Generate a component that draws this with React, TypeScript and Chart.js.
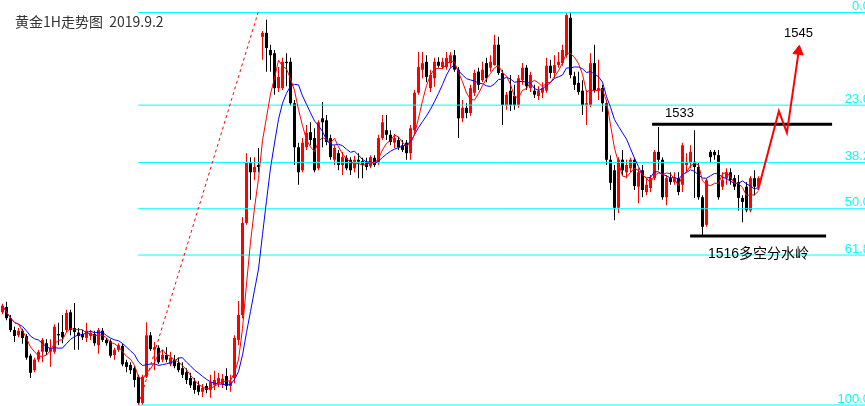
import React, { useEffect, useRef } from "react";
import { Chart, registerables } from "chart.js";

Chart.register(...registerables);

// ---- Gold 1H candles (price, USD/oz) ----
const opens = [
  1504.4, 1505.2, 1503.5, 1501.7, 1500.9, 1501.6, 1500.8, 1497.8, 1495.6, 1497.2,
  1498.4, 1499.7, 1498.4, 1498.4, 1501.1, 1501.4, 1501.7, 1504.4, 1502.0, 1501.3,
  1501.1, 1500.5, 1500.8, 1501.1, 1499.4, 1501.6, 1500.2, 1500.0, 1497.9, 1498.7,
  1499.3, 1496.8, 1496.4, 1495.9, 1494.6, 1490.6, 1494.6, 1500.9, 1498.7, 1499.0,
  1497.2, 1497.9, 1496.5, 1497.2, 1496.7, 1495.9, 1495.3, 1494.4, 1493.9, 1493.3,
  1492.3, 1493.2, 1492.6, 1493.3, 1493.6, 1493.5, 1494.7, 1493.2, 1494.4, 1500.2,
  1504.0, 1518.0, 1527.1, 1525.7, 1526.8, 1546.3, 1546.9, 1544.3, 1543.8, 1538.5,
  1538.5, 1542.5, 1542.5, 1536.2, 1529.5, 1526.0, 1529.5, 1531.8, 1530.9, 1526.3,
  1533.9, 1533.6, 1530.9, 1527.6, 1528.6, 1526.8, 1527.9, 1527.6, 1526.3, 1527.6,
  1527.4, 1527.3, 1526.6, 1527.9, 1527.1, 1530.9, 1532.1, 1531.4, 1530.2, 1530.6,
  1529.8, 1530.2, 1528.6, 1532.1, 1537.8, 1541.3, 1542.5, 1538.5, 1540.0, 1542.5,
  1541.7, 1541.7, 1542.3, 1543.5, 1541.3, 1533.9, 1535.5, 1534.7, 1537.8, 1541.0,
  1539.7, 1542.3, 1541.6, 1542.0, 1545.1, 1540.8, 1535.9, 1538.1, 1537.3, 1535.9,
  1539.7, 1541.6, 1538.5, 1538.1, 1537.3, 1537.8, 1538.1, 1541.9, 1540.8, 1542.0,
  1542.3, 1543.5, 1549.2, 1540.3, 1539.3, 1538.1, 1535.9, 1535.9, 1542.3, 1538.1,
  1538.5, 1536.2, 1527.6, 1526.0, 1520.3, 1527.6, 1525.7, 1526.3, 1527.6, 1523.5,
  1526.0, 1522.7, 1523.3, 1524.8, 1528.8, 1527.6, 1521.9, 1524.8, 1524.2, 1524.8,
  1523.8, 1526.8, 1527.1, 1527.3, 1526.5, 1521.9, 1517.7, 1528.8, 1528.8, 1528.3,
  1523.5, 1524.8, 1525.7, 1524.8, 1524.2, 1521.8, 1523.5, 1519.9, 1524.8, 1523.5,
];
const highs = [
  1505.7, 1506.0, 1504.0, 1502.2, 1502.0, 1501.9, 1501.1, 1498.1, 1497.5, 1498.7,
  1500.5, 1500.3, 1500.3, 1502.6, 1502.8, 1504.0, 1504.8, 1504.8, 1505.8, 1502.0,
  1501.7, 1502.8, 1501.7, 1501.6, 1502.0, 1502.0, 1500.5, 1500.3, 1499.0, 1499.7,
  1499.6, 1497.2, 1496.8, 1496.2, 1494.9, 1494.9, 1502.9, 1501.4, 1499.9, 1499.4,
  1498.7, 1499.1, 1498.4, 1497.9, 1497.5, 1496.8, 1495.9, 1495.2, 1494.4, 1493.9,
  1493.5, 1493.6, 1494.9, 1495.5, 1495.2, 1495.0, 1495.9, 1494.9, 1500.9, 1506.1,
  1518.9, 1528.6, 1528.0, 1528.0, 1529.4, 1547.2, 1548.9, 1545.1, 1544.3, 1541.7,
  1543.1, 1543.8, 1543.1, 1536.7, 1530.2, 1530.9, 1532.9, 1533.3, 1532.4, 1533.6,
  1536.4, 1534.4, 1531.4, 1529.8, 1529.1, 1528.8, 1528.3, 1528.0, 1528.2, 1528.6,
  1527.9, 1527.9, 1528.3, 1528.3, 1531.4, 1534.4, 1534.4, 1532.1, 1531.5, 1531.1,
  1530.6, 1530.6, 1532.9, 1538.2, 1544.0, 1544.0, 1543.5, 1541.3, 1543.1, 1543.2,
  1543.1, 1544.0, 1544.0, 1544.3, 1541.7, 1536.7, 1536.2, 1539.0, 1541.3, 1541.6,
  1542.5, 1543.1, 1543.5, 1546.6, 1546.3, 1541.3, 1537.9, 1540.5, 1539.0, 1540.5,
  1542.3, 1542.0, 1541.0, 1539.0, 1538.8, 1539.4, 1543.1, 1542.8, 1543.5, 1544.0,
  1545.1, 1549.9, 1549.9, 1541.0, 1541.0, 1539.7, 1538.2, 1543.8, 1545.1, 1542.8,
  1539.0, 1536.7, 1528.3, 1526.8, 1528.0, 1529.1, 1527.6, 1527.9, 1527.9, 1526.3,
  1526.8, 1524.8, 1525.3, 1529.1, 1532.6, 1528.0, 1525.3, 1525.7, 1525.7, 1525.7,
  1530.2, 1528.6, 1529.8, 1532.1, 1527.1, 1522.2, 1524.8, 1529.1, 1529.1, 1529.1,
  1525.7, 1526.3, 1526.3, 1525.3, 1525.3, 1522.2, 1524.2, 1525.1, 1526.0, 1525.1,
];
const lows = [
  1504.1, 1503.2, 1501.4, 1499.9, 1500.6, 1499.6, 1497.2, 1494.4, 1495.3, 1496.8,
  1496.8, 1497.9, 1496.1, 1498.1, 1499.4, 1499.7, 1501.4, 1500.9, 1498.7, 1498.7,
  1500.2, 1499.9, 1500.2, 1499.3, 1498.1, 1499.9, 1499.3, 1497.5, 1497.2, 1498.4,
  1496.2, 1495.3, 1495.0, 1493.0, 1490.3, 1490.3, 1494.4, 1498.5, 1495.6, 1496.5,
  1496.8, 1496.8, 1496.2, 1495.9, 1495.3, 1494.4, 1493.5, 1492.9, 1492.0, 1491.8,
  1491.5, 1492.1, 1491.4, 1492.6, 1493.0, 1492.9, 1492.6, 1492.3, 1493.6, 1499.4,
  1503.5, 1517.7, 1521.5, 1524.5, 1525.7, 1542.8, 1541.0, 1541.0, 1537.5, 1537.9,
  1538.2, 1538.8, 1535.8, 1526.8, 1523.8, 1525.7, 1529.1, 1529.8, 1525.7, 1526.0,
  1529.5, 1529.8, 1527.6, 1526.8, 1526.0, 1525.3, 1526.0, 1525.3, 1525.7, 1524.8,
  1524.8, 1526.0, 1526.3, 1526.5, 1526.8, 1530.6, 1530.6, 1529.8, 1529.4, 1529.1,
  1528.8, 1527.6, 1527.6, 1531.4, 1537.5, 1540.0, 1539.4, 1537.9, 1538.7, 1541.6,
  1541.4, 1541.3, 1541.6, 1541.0, 1530.9, 1533.3, 1533.9, 1534.3, 1537.3, 1538.2,
  1539.4, 1539.4, 1541.0, 1541.9, 1540.5, 1532.9, 1535.2, 1535.0, 1535.2, 1535.5,
  1539.0, 1538.2, 1537.9, 1537.0, 1536.7, 1537.0, 1537.8, 1540.0, 1540.0, 1541.6,
  1541.9, 1543.1, 1540.0, 1538.2, 1537.5, 1534.4, 1532.9, 1535.6, 1537.8, 1536.7,
  1534.9, 1526.8, 1523.0, 1518.4, 1519.5, 1525.3, 1524.8, 1525.7, 1523.0, 1521.0,
  1521.9, 1522.2, 1522.7, 1524.5, 1526.0, 1521.5, 1520.7, 1523.8, 1523.8, 1522.2,
  1522.7, 1525.7, 1526.3, 1521.8, 1521.5, 1515.9, 1517.4, 1527.1, 1527.6, 1521.5,
  1523.0, 1523.8, 1523.8, 1523.0, 1519.9, 1518.1, 1519.6, 1519.6, 1522.2, 1523.0,
];
const closes = [
  1505.4, 1503.5, 1501.7, 1500.8, 1501.6, 1500.5, 1497.5, 1495.2, 1497.2, 1498.4,
  1500.2, 1498.4, 1499.0, 1502.2, 1500.9, 1500.6, 1504.3, 1501.7, 1501.4, 1500.8,
  1500.6, 1501.6, 1501.3, 1499.7, 1501.7, 1500.2, 1499.7, 1497.8, 1498.7, 1499.4,
  1496.5, 1496.1, 1495.6, 1494.1, 1490.6, 1494.6, 1500.9, 1498.8, 1499.1, 1496.8,
  1497.9, 1497.2, 1497.5, 1496.2, 1495.6, 1494.9, 1494.1, 1493.3, 1492.6, 1492.3,
  1492.9, 1492.6, 1493.8, 1494.1, 1494.4, 1494.3, 1493.2, 1493.9, 1500.5, 1504.0,
  1518.0, 1527.1, 1525.7, 1526.5, 1526.5, 1546.9, 1544.6, 1543.5, 1538.5, 1540.2,
  1542.5, 1542.3, 1536.2, 1529.5, 1525.7, 1530.2, 1531.7, 1530.6, 1526.0, 1533.3,
  1533.3, 1530.3, 1528.0, 1529.4, 1526.8, 1528.0, 1526.3, 1526.0, 1527.6, 1527.3,
  1526.8, 1526.5, 1528.0, 1526.8, 1530.9, 1533.3, 1531.4, 1530.3, 1530.9, 1529.5,
  1529.1, 1528.6, 1532.4, 1537.8, 1541.7, 1542.3, 1540.2, 1540.5, 1542.5, 1541.9,
  1542.5, 1543.1, 1543.5, 1541.3, 1533.9, 1535.5, 1534.7, 1538.5, 1540.8, 1539.0,
  1541.3, 1540.0, 1542.5, 1545.1, 1540.8, 1535.9, 1537.5, 1535.9, 1535.9, 1540.0,
  1541.6, 1538.8, 1540.5, 1537.5, 1538.1, 1538.5, 1541.9, 1540.8, 1542.0, 1542.5,
  1544.3, 1549.6, 1540.5, 1539.0, 1537.9, 1535.9, 1536.2, 1542.3, 1538.1, 1538.5,
  1536.2, 1527.6, 1524.1, 1520.3, 1527.6, 1526.0, 1526.8, 1527.6, 1523.6, 1525.7,
  1523.0, 1523.8, 1524.8, 1528.8, 1527.6, 1521.9, 1524.8, 1524.2, 1524.8, 1522.7,
  1529.8, 1527.3, 1528.8, 1526.5, 1521.9, 1517.4, 1524.5, 1528.0, 1528.3, 1521.9,
  1524.5, 1525.7, 1524.5, 1523.5, 1521.8, 1521.2, 1519.9, 1524.8, 1523.5, 1524.8,
];

// ---- Fibonacci retracement ----
const fibHigh = 1550.0;
const fibLow = 1490.3;
const fibRatios = [0, 23.6, 38.2, 50.0, 61.8, 100.0];
const fibLabels = ["0.0", "23.6", "38.2", "50.0", "61.8", "100.0"];
const fibStartBar = 33.9;
const trendBars = [34, 63.9];
const trendPrices = [fibLow, fibHigh];

// ---- Annotations ----
const resistanceLevel = 1533;
const resistanceBars = [162.4, 207.4];
const supportLevel = 1516;
const supportBars = [171.9, 205.9];
const projectionBars = [188.9, 194.1, 196.1, 199.1];
const projectionPrices = [1523.0, 1535.0, 1531.7, 1544.3];
const arrowBar = 199.0;
const arrowPrice = 1544.1;
const titleText = "黄金1H走势图  2019.9.2";
const noteTexts = ["1533", "1545", "1516多空分水岭"];
const noteBars = [169.25, 199.0, 189.0];
const notePrices = [1534.1, 1546.2, 1512.7];

const X_MIN = -0.625;
const X_MAX = 215.625;

function sma(values: number[], n: number): number[] {
  return values.map((_, i) => {
    const s = Math.max(0, i - n + 1);
    const w = values.slice(s, i + 1);
    return w.reduce((a, b) => a + b, 0) / w.length;
  });
}

const fibPrice = (r: number) => fibHigh - ((fibHigh - fibLow) * r) / 100;

const overlayPlugin = {
  id: "overlayText",
  afterDraw(chart: any) {
    const { ctx, chartArea, scales } = chart;
    const xs = scales.x;
    const ys = scales.y;
    ctx.save();
    ctx.textBaseline = "alphabetic";
    // fib labels
    ctx.font = '13px "Liberation Sans", Arial, sans-serif';
    ctx.fillStyle = "#00ffff";
    ctx.textAlign = "right";
    fibRatios.forEach((r, k) => {
      const py = ys.getPixelForValue(fibPrice(r));
      ctx.fillText(fibLabels[k], chartArea.right + 5, py - 2.5);
    });
    // title
    ctx.textAlign = "left";
    ctx.fillStyle = "#333333";
    ctx.font = '14px "Noto Sans CJK SC", sans-serif';
    ctx.fillText(titleText, chartArea.left + 15, chartArea.top + 26.5);
    // notes
    ctx.fillStyle = "#000000";
    ctx.textAlign = "center";
    noteTexts.forEach((t, k) => {
      ctx.font =
        k === 2
          ? '14px "Liberation Sans", "Noto Sans CJK SC", sans-serif'
          : '13px "Liberation Sans", Arial, sans-serif';
      ctx.fillText(t, xs.getPixelForValue(noteBars[k]), ys.getPixelForValue(notePrices[k]));
    });
    ctx.restore();
  },
};

export default function App() {
  const ref = useRef<HTMLCanvasElement>(null);

  useEffect(() => {
    const colors = closes.map((c, i) => (c >= opens[i] ? "#ff0000" : "#000000"));
    const wickData = highs.map((h, i) => ({ x: i, y: [lows[i], h] }));
    const bodyData = opens.map((o, i) => ({
      x: i,
      y: [Math.min(o, closes[i]), Math.max(o, closes[i])],
    }));
    const ma5 = sma(closes, 5).map((v, i) => ({ x: i, y: v }));
    const ma10 = sma(closes, 10).map((v, i) => ({ x: i, y: v }));

    const fibSets = fibRatios.map((r) => ({
      type: "line" as const,
      data: [
        { x: fibStartBar, y: fibPrice(r) },
        { x: X_MAX, y: fibPrice(r) },
      ],
      borderColor: "#00ffff",
      borderWidth: 1,
      pointRadius: 0,
      order: 8,
    }));

    const chart = new Chart(ref.current as HTMLCanvasElement, {
      type: "bar",
      data: {
        datasets: [
          {
            type: "bar",
            data: wickData as any,
            backgroundColor: colors,
            barThickness: 1,
            grouped: false,
            borderWidth: 0,
            inflateAmount: 0,
            order: 10,
          } as any,
          {
            type: "bar",
            data: bodyData as any,
            backgroundColor: colors,
            barThickness: 3,
            grouped: false,
            borderWidth: 0,
            inflateAmount: 0,
            order: 9,
          } as any,
          ...fibSets,
          {
            type: "line",
            data: ma10,
            borderColor: "#0000ff",
            borderWidth: 1,
            pointRadius: 0,
            tension: 0,
            order: 6,
          },
          {
            type: "line",
            data: ma5,
            borderColor: "#ff0000",
            borderWidth: 1,
            pointRadius: 0,
            tension: 0,
            order: 5,
          },
          {
            type: "line",
            data: trendBars.map((b, k) => ({ x: b, y: trendPrices[k] })),
            borderColor: "#ff0000",
            borderWidth: 1,
            borderDash: [3, 3],
            pointRadius: 0,
            order: 4,
          },
          {
            type: "line",
            data: resistanceBars.map((b) => ({ x: b, y: resistanceLevel })),
            borderColor: "#000000",
            borderWidth: 3,
            pointRadius: 0,
            order: 3,
          },
          {
            type: "line",
            data: supportBars.map((b) => ({ x: b, y: supportLevel })),
            borderColor: "#000000",
            borderWidth: 3,
            pointRadius: 0,
            order: 3,
          },
          {
            type: "line",
            data: projectionBars.map((b, k) => ({ x: b, y: projectionPrices[k] })),
            borderColor: "#ff0000",
            borderWidth: 2,
            pointRadius: 0,
            tension: 0,
            order: 2,
          },
          {
            type: "line",
            data: [{ x: arrowBar, y: arrowPrice }],
            showLine: false,
            pointStyle: "triangle",
            pointRadius: 6,
            rotation: 8,
            backgroundColor: "#ff0000",
            borderColor: "#ff0000",
            borderWidth: 1,
            order: 1,
          } as any,
        ],
      },
      options: {
        responsive: false,
        maintainAspectRatio: false,
        devicePixelRatio: 1,
        animation: false,
        events: [],
        layout: { padding: 0, autoPadding: false },
        plugins: {
          legend: { display: false },
          tooltip: { enabled: false },
          title: { display: false },
        },
        scales: {
          x: { type: "linear", min: X_MIN, max: X_MAX, display: false, offset: false, bounds: "data" },
          y: { type: "linear", min: 1490.148, max: 1551.9, display: false, bounds: "data" },
        },
      } as any,
      plugins: [overlayPlugin],
    });
    return () => chart.destroy();
  }, []);

  return (
    <div
      style={{
        position: "absolute",
        left: 0,
        top: 0,
        width: 865,
        height: 406,
        background: "#ffffff",
      }}
    >
      <canvas
        ref={ref}
        width={865}
        height={406}
        style={{ display: "block", width: 865, height: 406 }}
      />
    </div>
  );
}
